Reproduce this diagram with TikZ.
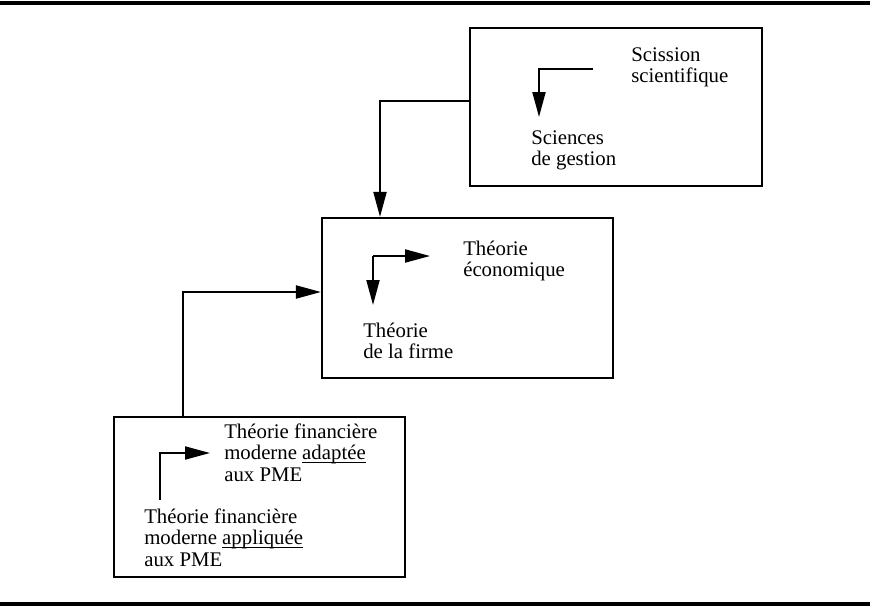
\documentclass[tikz,border=0pt]{standalone}
\usepackage{fontspec}
\setmainfont{Liberation Serif}
\usetikzlibrary{arrows.meta}
\newcommand{\undl}[1]{\setbox0\hbox{#1}\rlap{\rule[-2.2pt]{\wd0}{0.7pt}}#1}

\begin{document}
\begin{tikzpicture}[x=0.75pt,y=-0.75pt]
\tikzset{box/.style = {draw, line width=1.6pt, inner sep=0pt},
  lbl/.style = {anchor=base west, align=left, inner sep=0pt,
    font=\fontsize{15.6}{16.1}\selectfont},
  edge/.style = {line width=1.5pt, -{Triangle[length=18.75pt,width=9.75pt]}},
  rule/.style = {line width=2.4pt}}
\useasboundingbox (0,0) rectangle (870,607);

\node[box, minimum width=219pt, minimum height=118.5pt] (topbox) at (616,107) {};
\node[box, minimum width=218.25pt, minimum height=120pt] (midbox) at (467.5,298) {};
\node[box, minimum width=218.25pt, minimum height=120pt] (botbox) at (259.5,497) {};

% base anchor = last line
\node[lbl] (scission) at (631,82.5) {Scission\\scientifique};
\node[lbl] (gestion) at (531,165.5) {Sciences\\de gestion};
\node[lbl] (eco) at (463,276.5) {Théorie\\économique};
\node[lbl] (firme) at (363,358.5) {Théorie\\de la firme};
\node[lbl] (adaptee) at (224,481) {Théorie financière\\moderne \undl{adaptée}\\aux PME};
\node[lbl] (appliquee) at (144,566) {Théorie financière\\moderne \undl{appliquée}\\aux PME};

% arrows inside the boxes
\coordinate (s1) at (593,69);
\coordinate (s2) at (539,117);
\draw[edge] (s1) -| (s2);
\coordinate (t1) at (373,305);
\coordinate (t2) at (430,256);
\draw[edge] (t1 |- t2) -- (t1);
\draw[edge] (t1 |- t2) -- (t2);
\coordinate (f1) at (160,500);
\coordinate (f2) at (210,453);
\draw[edge] (f1) |- (f2);

% links between the boxes
\coordinate (j1) at (380,101);
\draw[edge] (j1 -| topbox.west) -- (j1) -- (j1 |- midbox.north);
\coordinate (j2) at (183,292);
\draw[edge] (j2 |- botbox.north) -- (j2) -- (j2 -| midbox.west);

\draw[rule] (0,3) -- (870,3);
\draw[rule] (0,604) -- (870,604);
\end{tikzpicture}
\end{document}
